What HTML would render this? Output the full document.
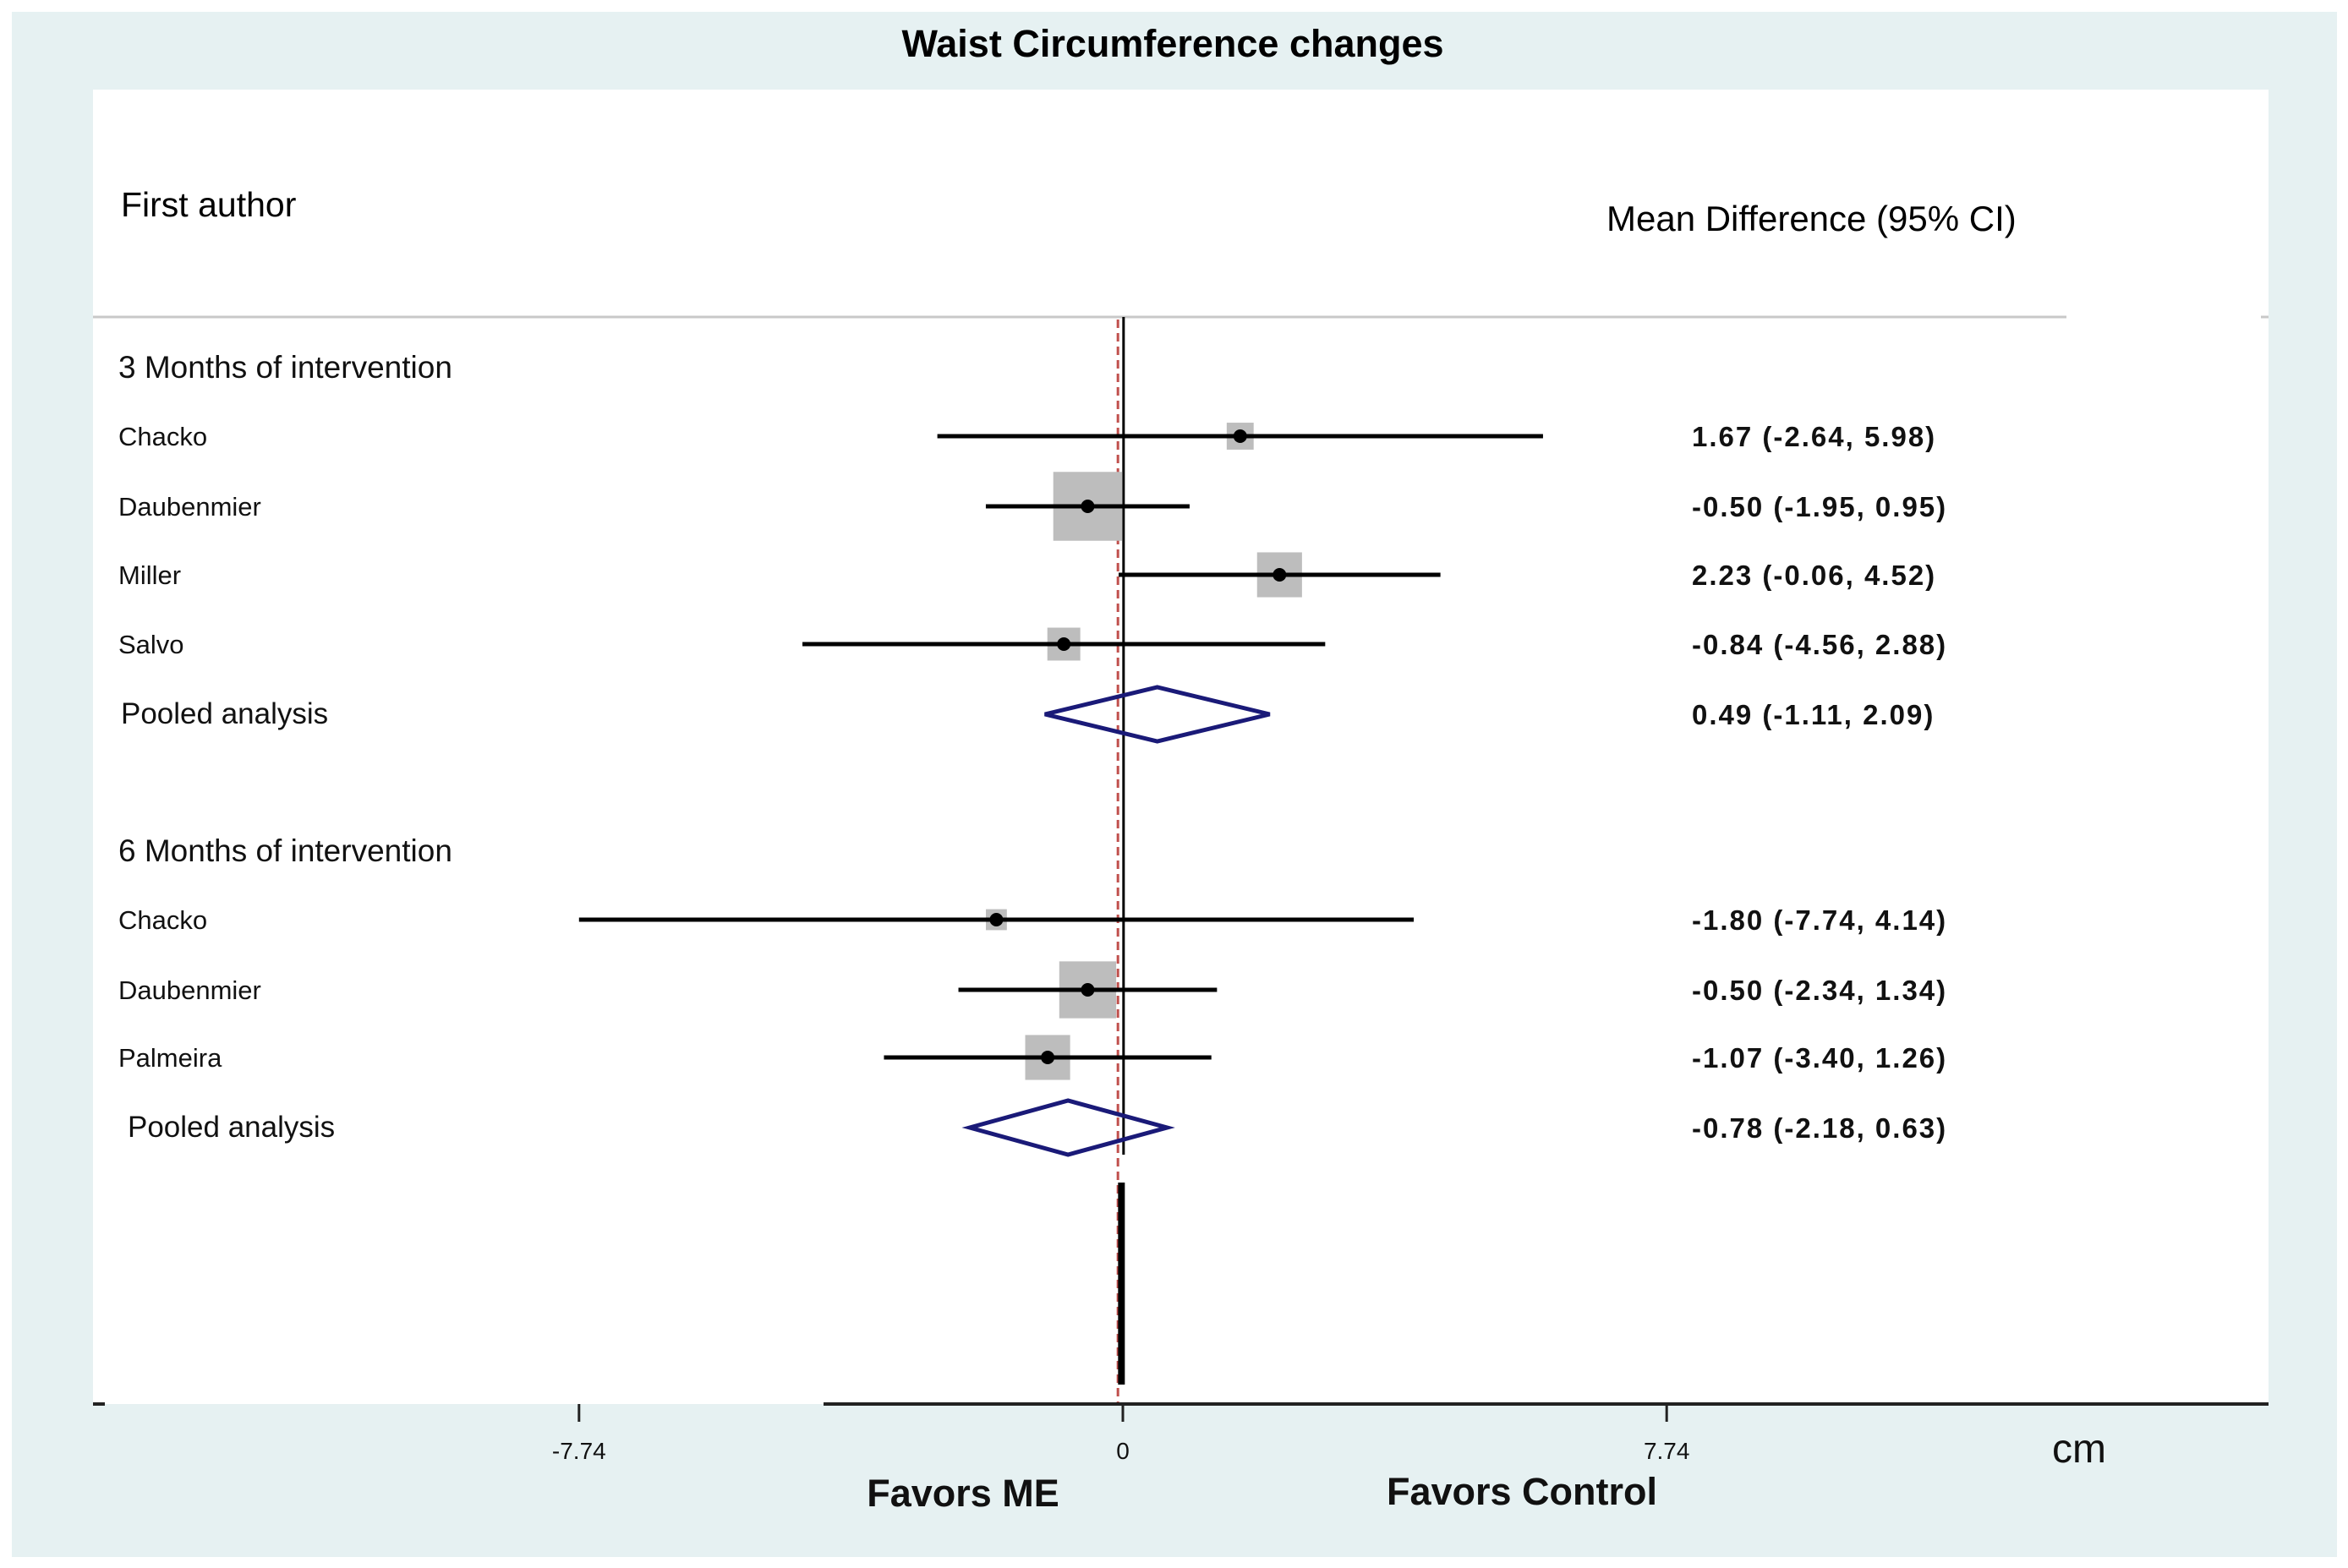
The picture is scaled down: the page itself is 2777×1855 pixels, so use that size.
<!DOCTYPE html>
<html><head><meta charset="utf-8"><style>
html,body{margin:0;padding:0;background:#fff}
svg{display:block}
text{font-family:"Liberation Sans",sans-serif}
</style></head><body>
<svg id="c" width="2777" height="1855" viewBox="0 0 2777 1855" xmlns="http://www.w3.org/2000/svg">
<rect x="14" y="14" width="2750" height="1828" fill="#e6f1f2"/>
<rect x="110" y="106" width="2573" height="1555" fill="#ffffff"/>
<text x="1387" y="67" font-size="45" font-weight="bold" text-anchor="middle">Waist Circumference changes</text>
<text x="143" y="256" font-size="41">First author</text>
<text x="1900" y="273" font-size="42">Mean Difference (95% CI)</text>
<line x1="110" y1="375" x2="2444" y2="375" stroke="#c8c8c8" stroke-width="3"/>
<line x1="2674" y1="375" x2="2683" y2="375" stroke="#c8c8c8" stroke-width="3"/>
<g id="marks"></g>
</svg>
<script>
const labels = ["3  Months of intervention","Chacko","Daubenmier","Miller","Salvo","Pooled analysis","6  Months of intervention","Chacko","Daubenmier","Palmeira","Pooled analysis"];
const rowType = ["group","study","study","study","study","pooled","group","study","study","study","pooled"];
const estimates = [null,1.67,-0.50,2.23,-0.84,0.49,null,-1.80,-0.50,-1.07,-0.78];
const lower = [null,-2.64,-1.95,-0.06,-4.56,-1.11,null,-7.74,-2.34,-3.40,-2.18];
const upper = [null,5.98,0.95,4.52,2.88,2.09,null,4.14,1.34,1.26,0.63];
const weights = [null,18,46,30,22,null,null,14,38,30,null];
const printed = ["","1.67 (-2.64, 5.98)","-0.50 (-1.95, 0.95)","2.23 (-0.06, 4.52)","-0.84 (-4.56, 2.88)","0.49 (-1.11, 2.09)","","-1.80 (-7.74, 4.14)","-0.50 (-2.34, 1.34)","-1.07 (-3.40, 1.26)","-0.78 (-2.18, 0.63)"];
const ticks = [-7.74, 0, 7.74];
const tickLabels = ["-7.74","0","7.74"];
const rowY = [436,516,599,680,762,845,1008,1088,1171,1251,1334];

const NS="http://www.w3.org/2000/svg";
const g=document.getElementById('marks');
const x0=1328, pxPerUnit=83.1;
function X(v){return x0+v*pxPerUnit;}
function el(tag,attrs,txt){const e=document.createElementNS(NS,tag);for(const k in attrs)e.setAttribute(k,attrs[k]);if(txt!==undefined)e.textContent=txt;g.appendChild(e);return e;}

let e;
e=el('line',{x1:X(-0.07),y1:378,x2:X(-0.07),y2:1661,stroke:'#c0504d','stroke-width':3,'stroke-dasharray':'10,6'});


e=el('line',{x1:X(0.01),y1:375,x2:X(0.01),y2:1366,stroke:'#000','stroke-width':3});


e=el('line',{x1:X(-0.02),y1:1399,x2:X(-0.02),y2:1638,stroke:'#000','stroke-width':8});



for(let i=0;i<labels.length;i++){
  const y=rowY[i];
  const lx = rowType[i]==='pooled'?(i===10?151:143):140;
  const fs = rowType[i]==='study'?31:(rowType[i]==='group'?37:35);
  e=el('text',{x:lx,y:y+11,'font-size':fs,fill:'#111'},labels[i]);
  
  
  if(rowType[i]==='group') continue;
  e=el('text',{x:2001,y:y+12,'font-size':33,'font-weight':'bold','letter-spacing':2,fill:'#111'},printed[i]);
  
  
  if(rowType[i]==='study'){
    const s=weights[i]*1.771;
    e=el('rect',{x:X(estimates[i])-s/2,y:y-s/2,width:s,height:s,fill:'#bdbdbd'});
    
    
    e=el('line',{x1:X(lower[i]),y1:y,x2:X(upper[i]),y2:y,stroke:'#000','stroke-width':5});
    
    
    e=el('circle',{cx:X(estimates[i]),cy:y,r:8,fill:'#000'});
    
    
  } else {
    const h=32;
    const pts=[[X(lower[i]),y],[X(estimates[i]),y-h],[X(upper[i]),y],[X(estimates[i]),y+h]].map(p=>p.join(',')).join(' ');
    e=el('polygon',{points:pts,fill:'none',stroke:'#1a1a78','stroke-width':5});
    
    
  }
}
e=el('line',{x1:974,y1:1661,x2:2683,y2:1661,stroke:'#222','stroke-width':4});


e=el('line',{x1:110,y1:1661,x2:124,y2:1661,stroke:'#222','stroke-width':4});


for(let i=0;i<ticks.length;i++){
  e=el('line',{x1:X(ticks[i]),y1:1661,x2:X(ticks[i]),y2:1682,stroke:'#222','stroke-width':3});
  
  
  e=el('text',{x:X(ticks[i]),y:1726,'font-size':28,'text-anchor':'middle',fill:'#111'},tickLabels[i]);
  
  
}
e=el('text',{x:2427,y:1730,'font-size':48,fill:'#111'},'cm');


e=el('text',{x:1139,y:1782,'font-size':45,'font-weight':'bold','text-anchor':'middle',fill:'#111'},'Favors ME');


e=el('text',{x:1800,y:1780,'font-size':45,'font-weight':'bold','text-anchor':'middle',fill:'#111'},'Favors Control');


</script>
</body></html>
